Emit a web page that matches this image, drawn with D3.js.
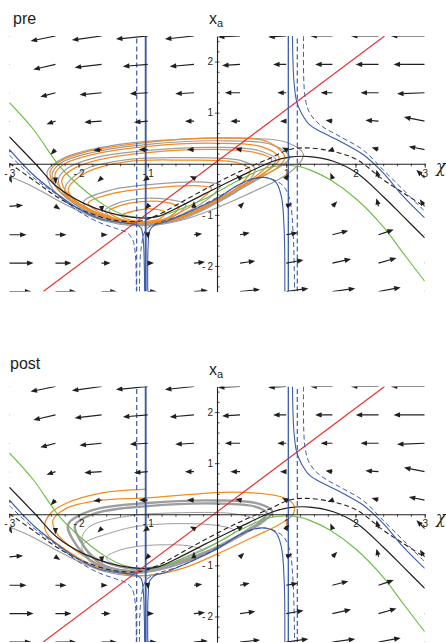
<!DOCTYPE html>
<html><head><meta charset="utf-8">
<script src="https://cdn.jsdelivr.net/npm/d3@7"></script>
<style>
body{margin:0;background:#fff}
svg text{font-family:"Liberation Sans",Arial,Helvetica,sans-serif;fill:#231f20}
</style>
</head><body>
<svg id="chart" width="446" height="643"></svg>
<script>
// ---------- data (chi, x_a) ----------
const xTickLabels = [-3,-2,-1,1,2,3];
const yTickLabels = [-2,-1,1,2];
const chiGrid = [-3,-2.333,-1.667,-1,-0.333,0.333,1,1.667,2.333,3];
const xaGrid  = [2.5,1.944,1.389,0.833,0.278,-0.278,-0.833,-1.389,-1.944,-2.5];
// vector components (d chi, d x_a) per row (top to bottom) and column (left to right)
const U = [
 [-0.36,-0.36,-0.43,-0.46,-0.42,-0.32,-0.26,-0.32,-0.40,-0.49],
 [-0.32,-0.32,-0.39,-0.36,-0.35,-0.26,-0.19,-0.25,-0.33,-0.45],
 [-0.22,-0.22,-0.32,-0.26,-0.27,-0.22,-0.13,-0.17,-0.26,-0.40],
 [-0.13,-0.13,-0.25,-0.20,-0.13,-0.14,-0.09,-0.10,-0.19,-0.30],
 [-0.07,-0.07,-0.12,-0.13,-0.10,-0.07,-0.06,-0.07,-0.10,-0.23],
 [ 0.04, 0.00,-0.06,-0.07,-0.06,-0.06, 0.04,-0.03,-0.03,-0.12],
 [ 0.20, 0.07, 0.01,-0.04, 0.00, 0.06, 0.09, 0.07,-0.03,-0.07],
 [ 0.25, 0.16, 0.09, 0.01, 0.12, 0.14, 0.17, 0.23, 0.22, 0.22],
 [ 0.35, 0.23, 0.13, 0.09, 0.16, 0.22, 0.25, 0.27, 0.26, 0.26],
 [ 0.32, 0.30, 0.22, 0.13, 0.20, 0.29, 0.32, 0.33, 0.32, 0.32]];
const V = [
 [-0.10,-0.10,-0.08,-0.06,-0.06,-0.02,-0.02, 0.00, 0.00, 0.00],
 [-0.10,-0.10,-0.06,-0.04,-0.04,-0.02, 0.00, 0.00, 0.00, 0.00],
 [-0.08,-0.08,-0.04,-0.02,-0.02, 0.00, 0.00, 0.00, 0.00,-0.02],
 [-0.08,-0.06,-0.02,-0.02, 0.00, 0.00, 0.00, 0.02, 0.02, 0.08],
 [-0.10,-0.10,-0.02, 0.00, 0.00, 0.02, 0.04,-0.04, 0.04, 0.06],
 [-0.10,-0.12,-0.08,-0.06, 0.04, 0.06, 0.08, 0.10, 0.16, 0.16],
 [ 0.02,-0.06,-0.12,-0.06, 0.10, 0.08, 0.06, 0.10, 0.16, 0.14],
 [ 0.00, 0.00, 0.00,-0.08, 0.02, 0.04, 0.04, 0.08, 0.10, 0.10],
 [ 0.00, 0.00, 0.00, 0.00, 0.02, 0.04, 0.06, 0.08, 0.10, 0.10],
 [ 0.00, 0.00, 0.00, 0.00, 0.02, 0.04, 0.06, 0.06, 0.08, 0.08]];

const greenNull = [[-3,1.2],[-2.65,0.67],[-2.29,-0.02],[-1.98,-0.44],[-1.64,-0.8],[-1.35,-1.0],[-1.1,-1.06],[-0.85,-1.03],[-0.63,-0.94],[-0.15,-0.67],[0.33,-0.31],[0.72,-0.08],[1.03,-0.03],[1.2,-0.06],[1.34,-0.12],[1.63,-0.31],[2.02,-0.7],[2.4,-1.23],[2.69,-1.75],[3,-2.3]];
const blackSolid = [[-3,0.53],[-2.61,-0.02],[-2.32,-0.44],[-1.93,-0.77],[-1.55,-0.96],[-1.11,-1.06],[-0.85,-1.03],[-0.63,-0.9],[-0.15,-0.57],[0.33,-0.25],[0.81,0.05],[1.05,0.13],[1.34,0.14],[1.68,0.05],[2.02,-0.18],[2.4,-0.64],[2.69,-1.03],[3,-1.45]];
const blackDashed = [[-3,0.01],[-2.62,-0.35],[-2.32,-0.64],[-1.93,-0.92],[-1.5,-1.1],[-1.11,-1.12],[-0.85,-1.0],[-0.63,-0.84],[-0.15,-0.48],[0.33,-0.15],[0.77,0.11],[1.05,0.28],[1.3,0.31],[1.68,0.24],[2.02,0.08],[2.4,-0.31],[2.69,-0.57],[3,-0.84]];
const blueLeft = [[-3,0.28],[-2.65,-0.22],[-2.3,-0.6],[-2.0,-0.88],[-1.7,-1.07],[-1.4,-1.15],[-1.2,-1.18],[-1.1,-1.25],[-1.065,-1.5],[-1.05,-2.0],[-1.045,-2.5]];
const blueMid = [[-1.0,-2.5],[-0.995,-1.6],[-0.97,-1.3],[-0.9,-1.2],[-0.73,-1.13],[-0.5,-1.0],[0,-0.68],[0.3,-0.42],[0.5,-0.3],[0.7,-0.27],[0.85,-0.36],[0.93,-0.64],[0.97,-1.29],[0.98,-2.5]];
const blueRight = [[1.09,2.5],[1.11,1.64],[1.15,1.22],[1.22,0.99],[1.34,0.76],[1.54,0.6],[1.83,0.4],[2.11,0.18],[2.4,-0.18],[2.69,-0.64],[3,-1.06]];
const blueDashLeft = [[-3,0.17],[-2.65,-0.27],[-2.3,-0.62],[-2.0,-0.93],[-1.7,-1.15],[-1.45,-1.27],[-1.3,-1.35],[-1.22,-1.48],[-1.18,-1.75],[-1.165,-2.5]];
const blueDashMid = [[-1.12,-2.5],[-1.1,-1.7],[-1.03,-1.3],[-0.9,-1.18],[-0.5,-1.0],[0,-0.66],[0.4,-0.36],[0.65,-0.27],[0.81,-0.31],[0.96,-0.44],[1.05,-0.7],[1.1,-1.36],[1.12,-2.5]];
const blueDashRight = [[1.25,2.5],[1.27,1.32],[1.34,0.99],[1.49,0.76],[1.78,0.53],[2.11,0.27],[2.4,-0.12],[2.69,-0.51],[3,-0.93]];
const blueVerticals = [-1.03, 1.03];
const blueDashVerticals = [-1.16, 1.16];
const redLine = [[-2.51,-2.5],[2.42,2.5]];

// pre: nested orbit loops
const preOrange = [
 [[-0.75,-0.95],[-0.9,-0.89],[-1.1,-0.9],[-1.38,-1.02],[-1.2,-1.12],[-0.95,-1.12],[-0.8,-1.05]],
 [[-0.55,-0.85],[-0.75,-0.75],[-1.1,-0.74],[-1.4,-0.82],[-1.56,-0.93],[-1.4,-1.08],[-1.0,-1.15],[-0.7,-1.05]],
 [[-0.08,-0.48],[-0.3,-0.43],[-0.9,-0.47],[-1.5,-0.58],[-1.86,-0.77],[-1.65,-0.98],[-1.2,-1.15],[-0.8,-1.1],[-0.4,-0.85],[-0.15,-0.6]],
 [[0.48,-0.12],[0.3,0.02],[-0.5,0.07],[-1.3,0.04],[-1.9,-0.18],[-2.15,-0.51],[-2.0,-0.78],[-1.6,-1.05],[-1.0,-1.17],[-0.5,-1.05],[0,-0.72],[0.35,-0.4]],
 [[0.79,0.08],[0.55,0.22],[0,0.28],[-1.0,0.22],[-1.7,0.08],[-2.1,-0.12],[-2.24,-0.31],[-2.15,-0.6],[-1.8,-0.92],[-1.3,-1.13],[-0.8,-1.14],[-0.3,-0.92],[0.2,-0.56],[0.6,-0.2]],
 [[0.9,0.1],[0.65,0.33],[0,0.4],[-1.0,0.34],[-1.8,0.18],[-2.2,0.0],[-2.34,-0.21],[-2.25,-0.5],[-1.9,-0.85],[-1.4,-1.1],[-0.9,-1.15],[-0.4,-0.97],[0.1,-0.63],[0.6,-0.25]],
 [[0.98,0.12],[0.75,0.42],[0,0.5],[-1.0,0.42],[-1.8,0.26],[-2.25,0.06],[-2.41,-0.15],[-2.33,-0.45],[-2.0,-0.8],[-1.5,-1.08],[-1.0,-1.17],[-0.5,-1.02],[0,-0.7],[0.5,-0.33],[0.85,-0.1]]
];
const preGray = [
 [[-0.45,-0.8],[-0.7,-0.7],[-1.1,-0.68],[-1.45,-0.78],[-1.62,-0.92],[-1.45,-1.1],[-1.0,-1.17],[-0.65,-1.05]],
 [[0.05,-0.42],[-0.2,-0.36],[-0.9,-0.4],[-1.55,-0.52],[-1.93,-0.75],[-1.72,-1.0],[-1.2,-1.17],[-0.75,-1.12],[-0.35,-0.88],[-0.05,-0.6]],
 [[0.55,-0.1],[0.35,0.06],[-0.5,0.12],[-1.3,0.08],[-1.95,-0.14],[-2.2,-0.5],[-2.05,-0.8],[-1.6,-1.08],[-1.0,-1.19],[-0.5,-1.08],[0,-0.77],[0.4,-0.42]],
 [[0.85,0.08],[0.6,0.26],[0,0.32],[-1.0,0.26],[-1.75,0.12],[-2.15,-0.08],[-2.29,-0.3],[-2.2,-0.6],[-1.85,-0.94],[-1.3,-1.15],[-0.8,-1.16],[-0.3,-0.95],[0.2,-0.6],[0.65,-0.22]],
 [[1.05,0.12],[0.8,0.37],[0,0.45],[-1.0,0.38],[-1.8,0.22],[-2.25,0.02],[-2.38,-0.2],[-2.3,-0.5],[-1.95,-0.87],[-1.45,-1.12],[-0.9,-1.17],[-0.4,-1.0],[0.1,-0.66],[0.7,-0.22]],
 [[1.25,0.18],[1.0,0.42],[0.4,0.5],[-0.5,0.48],[-1.5,0.36],[-2.2,0.12],[-2.45,-0.15],[-2.37,-0.5],[-2.02,-0.87],[-1.5,-1.14],[-1.0,-1.21],[-0.5,-1.1],[0,-0.86],[0.5,-0.56],[0.9,-0.3],[1.15,-0.05]]
];
const grayFromLeft = [[-3,-0.25],[-2.7,-0.42],[-2.35,-0.68],[-2.0,-0.92],[-1.6,-1.13],[-1.2,-1.21],[-0.8,-1.16]];

// post: thick limit cycle, thin inner orbits, orange transient
const postThick = [
 [[0.8,0.05],[0.62,0.2],[0,0.27],[-1.0,0.22],[-1.8,0.08],[-2.15,-0.2],[-2.08,-0.5],[-1.75,-0.98],[-1.25,-1.15],[-0.8,-1.07],[-0.3,-0.85],[0.2,-0.52],[0.65,-0.16]],
 [[0.72,0.02],[0.55,0.15],[0,0.21],[-1.0,0.16],[-1.75,0.02],[-2.05,-0.22],[-1.98,-0.5],[-1.7,-0.95],[-1.25,-1.12],[-0.8,-1.04],[-0.3,-0.82],[0.2,-0.5],[0.6,-0.17]]
];
const postThin = [
 [[0.55,-0.12],[0.3,0.0],[-0.5,0.03],[-1.3,-0.04],[-1.85,-0.25],[-1.95,-0.5],[-1.75,-0.85],[-1.3,-1.06],[-0.8,-1.0],[-0.3,-0.8],[0.2,-0.5]],
 [[0.25,-0.33],[0,-0.22],[-1.0,-0.21],[-1.5,-0.35],[-1.95,-0.62],[-1.8,-0.92],[-1.4,-1.08],[-0.9,-1.05],[-0.4,-0.8]],
 [[-0.2,-0.72],[-0.35,-0.63],[-1.0,-0.61],[-1.4,-0.7],[-1.6,-0.85],[-1.45,-1.0],[-1.1,-1.08],[-0.6,-0.95],[-0.3,-0.8]]
];
const postOrange = [[-1.02,0.49],[-1.69,0.41],[-2.17,0.22],[-2.41,0.01],[-2.49,-0.25],[-2.41,-0.46],[-2.2,-0.68],[-1.9,-0.93],[-1.5,-1.13],[-1.0,-1.2],[-0.5,-1.06],[0,-0.78],[0.5,-0.46],[0.9,-0.2],[1.1,0.0],[1.1,0.2],[0.95,0.33],[0.6,0.41],[0.09,0.43],[-1.02,0.32],[-1.69,0.27],[-2.17,0.12],[-2.37,-0.12],[-2.3,-0.4],[-2.05,-0.7],[-1.7,-0.98],[-1.25,-1.15]];

// ---------- styles ----------
const C = {orange:"#f68b1f", gray:"#9d9d9d", blue:"#3c5ba8", green:"#6cbd45", red:"#ee2a2a", black:"#231f20"};

const svg = d3.select("#chart");
const x = d3.scaleLinear().domain([-3,3]).range([9.3,424.7]);
const y = d3.scaleLinear().domain([-2.5,2.5]).range([291.5,36]);
const smooth = d3.line().x(d=>x(d[0])).y(d=>y(d[1])).curve(d3.curveCatmullRom.alpha(0.5));
const closed = d3.line().x(d=>x(d[0])).y(d=>y(d[1])).curve(d3.curveCatmullRomClosed.alpha(0.5));
const straight = d3.line().x(d=>x(d[0])).y(d=>y(d[1]));
const fmt = d=>d<0?"-\u2009"+(-d):String(d);

const panels = [
  {name:"pre", dy:0, lx:13, ly:24, type:"pre"},
  {name:"post", dy:350.5, lx:10, ly:368.5, type:"post"}
];

panels.forEach((p,pi)=>{
  svg.append("text").attr("x",p.lx).attr("y",p.ly).attr("font-size",16).text(p.name);
  const g = svg.append("g").attr("transform",`translate(0,${p.dy})`);
  const cid = "clip"+pi;
  g.append("clipPath").attr("id",cid).append("rect")
    .attr("x",x(-3)).attr("y",y(2.5)).attr("width",x(3)-x(-3)).attr("height",y(-2.5)-y(2.5));
  const pg = g.append("g").attr("clip-path",`url(#${cid})`);

  function path(data, gen, color, w, dash){
    const el = pg.append("path").attr("d",gen(data)).attr("fill","none")
      .attr("stroke",color).attr("stroke-width",w).attr("stroke-linejoin","round");
    if(dash) el.attr("stroke-dasharray",dash);
    return el;
  }

  if(p.type==="pre"){
    preGray.forEach(l=>path(l, closed, C.gray, 1.2));
    path(grayFromLeft, smooth, C.gray, 1.2);
    preOrange.forEach(l=>path(l, closed, C.orange, 1.25));
  } else {
    path(grayFromLeft, smooth, C.gray, 1.2);
    path(postOrange, smooth, C.orange, 1.25);
    postThin.forEach(l=>path(l, closed, C.gray, 1.0));
    postThick.forEach(l=>path(l, closed, C.gray, 2.4));
  }

  // nullclines etc.
  path(greenNull, smooth, C.green, 1.1);
  path(blackSolid, smooth, C.black, 1.2);
  path(blackDashed, smooth, C.black, 1.1, "5,3");
  path(redLine, straight, C.red, 1.1);
  [blueLeft, blueMid, blueRight].forEach(d=>path(d, smooth, C.blue, 1.1));
  [blueDashLeft, blueDashMid, blueDashRight].forEach(d=>path(d, smooth, C.blue, 1.0, "5,3"));
  blueVerticals.forEach((v,i)=>path([[v,-2.5],[v,2.5]], straight, C.blue, i===0?1.9:1.3));
  blueDashVerticals.forEach(v=>path([[v,-2.5],[v,2.5]], straight, C.blue, 1.2, "5,3"));

  // axes
  const xa = g.append("g").attr("transform",`translate(0,${y(0)})`);
  xa.call(d3.axisBottom(x).tickValues(x.ticks(30)).tickSize(2.5).tickSizeOuter(0).tickFormat(""));
  const xl = g.append("g").attr("transform",`translate(0,${y(0)})`);
  xl.call(d3.axisBottom(x).tickValues(xTickLabels).tickSize(4).tickPadding(2).tickFormat(fmt));
  xl.select(".domain").remove();
  const ya = g.append("g").attr("transform",`translate(${x(0)},0)`);
  ya.call(d3.axisRight(y).tickValues(y.ticks(25)).tickSize(2.5).tickSizeOuter(0).tickFormat(""));
  const yl = g.append("g").attr("transform",`translate(${x(0)},0)`);
  yl.call(d3.axisLeft(y).tickValues(yTickLabels).tickSize(2).tickPadding(2).tickFormat(fmt));
  yl.select(".domain").remove();
  g.selectAll(".domain").attr("stroke",C.black).attr("stroke-width",1.1);
  g.selectAll(".tick line").attr("stroke",C.black).attr("stroke-width",0.8);
  g.selectAll(".tick text").attr("font-size",10).attr("fill",C.black)
    .style("font-family",'"Liberation Sans",Arial,sans-serif');

  // vector field arrows (tails at grid points)
  const ag = g.append("g").attr("clip-path",`url(#${cid})`);
  xaGrid.forEach((ya0,j)=>chiGrid.forEach((cx,i)=>{
    const x0=x(cx), y0=y(ya0), x1=x(cx+U[j][i]), y1=y(ya0+V[j][i]);
    const dx=x1-x0, dy=y1-y0, L=Math.hypot(dx,dy);
    if(L<0.5) return;
    const ux=dx/L, uy=dy/L, hl=6.5, hw=2.6;
    const bx=x1-ux*hl, by=y1-uy*hl;
    if(L>hl) ag.append("line").attr("x1",x0).attr("y1",y0).attr("x2",bx+ux).attr("y2",by+uy)
        .attr("stroke",C.black).attr("stroke-width",1.2);
    ag.append("path").attr("d",`M${x1},${y1}L${bx-uy*hw},${by+ux*hw}L${bx+uy*hw},${by-ux*hw}Z`)
      .attr("fill",C.black);
  }));

  // axis labels
  const t = g.append("text").attr("x",209).attr("y",24).attr("font-size",16);
  t.append("tspan").text("x");
  t.append("tspan").attr("font-size",11).attr("dy",3).text("a");
  g.append("text").attr("x",436).attr("y",172).attr("font-size",16)
    .style("font-family",'"DejaVu Serif",serif').style("font-style","italic").text("χ");
});
</script>
</body></html>
